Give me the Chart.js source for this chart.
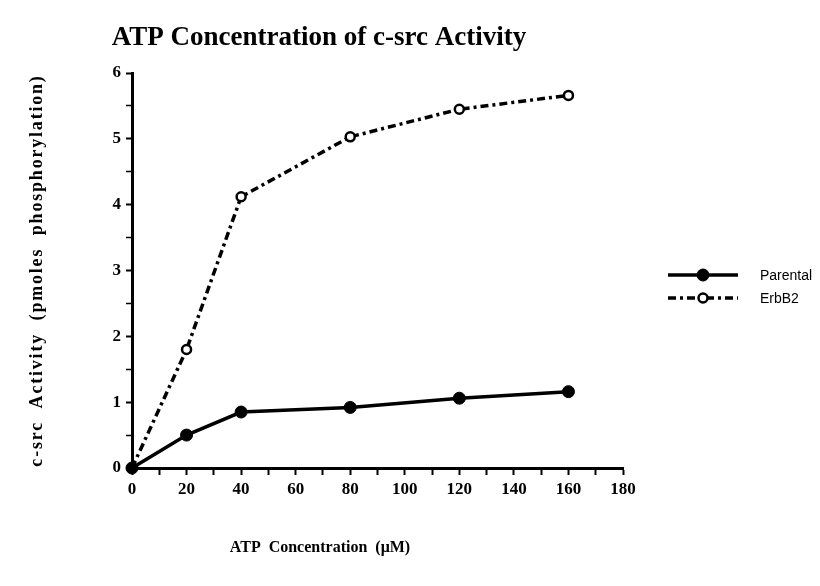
<!DOCTYPE html>
<html>
<head>
<title>ATP Concentration of c-src Activity</title>
<script src="https://cdn.jsdelivr.net/npm/chart.js"></script>
<style>body{margin:0;background:#fff}</style>
</head>
<body>
<canvas id="atpChart" width="820" height="586"></canvas>

<script>
// ATP concentration (uM) and c-src activity (pmoles phosphorylation)
var atp = [0, 20, 40, 80, 120, 160];
var parental = [0, 0.5, 0.85, 0.92, 1.06, 1.16];
var erbb2 = [0, 1.8, 4.12, 5.03, 5.45, 5.66];
var seriesNames = ['Parental', 'ErbB2'];
var chartTitle = 'ATP Concentration of c-src Activity';
var xTitle = 'ATP  Concentration  (\u03bcM)';
var yTitle = 'c-src  Activity  (pmoles  phosphorylation)';

function toPoints(ys){
	return ys.map(function(y, i){ return {x: atp[i], y: y}; });
}

var serif = 'Liberation Serif';

// title, axis titles and the legend on the right
var extras = {
	id: 'extras',
	afterDraw: function(chart){
		var c = chart.ctx;
		var area = chart.chartArea;
		c.save();
		c.fillStyle = '#000';
		c.textAlign = 'center';
		c.textBaseline = 'middle';
		c.font = 'bold 27px "' + serif + '"';
		c.fillText(chartTitle, 319, 38);
		c.font = 'bold 16px "' + serif + '"';
		c.fillText(xTitle, 320, 548);

		// rotated y title
		c.save();
		c.translate(37, (area.top + area.bottom) / 2);
		c.rotate(-Math.PI / 2);
		c.font = 'bold 18px "' + serif + '"';
		c.letterSpacing = '1.8px';
		c.fillText(yTitle, 0, 0);
		c.restore();

		c.font = '14px "Liberation Sans"';
		c.textAlign = 'left';
		chart.data.datasets.forEach(function(ds, i){
			var y = 275 + i * 23;
			c.strokeStyle = ds.borderColor;
			c.lineWidth = ds.borderWidth;
			c.setLineDash(ds.borderDash || []);
			c.beginPath(); c.moveTo(668, y); c.lineTo(738, y); c.stroke();
			c.setLineDash([]);
			c.beginPath(); c.arc(703, y, ds.pointRadius, 0, Math.PI * 2);
			c.fillStyle = ds.pointBackgroundColor; c.fill();
			c.lineWidth = ds.pointBorderWidth; c.strokeStyle = ds.pointBorderColor; c.stroke();
			c.fillStyle = '#000';
			c.fillText(ds.label, 760, y + 1);
		});
		c.restore();
	}
};

var ctx = document.getElementById('atpChart').getContext('2d');
var chart = new Chart(ctx, {
	type: 'line',
	data: {
		datasets: [
			{
				label: seriesNames[0],
				data: toPoints(parental),
				borderColor: '#000',
				borderWidth: 3.5,
				pointRadius: 6,
				pointBackgroundColor: '#000',
				pointBorderColor: '#000',
				pointBorderWidth: 1,
				clip: false
			},
			{
				label: seriesNames[1],
				data: toPoints(erbb2),
				borderColor: '#000',
				borderWidth: 3.5,
				borderDash: [8, 4, 3, 4],
				pointRadius: 4.5,
				pointBackgroundColor: '#fff',
				pointBorderColor: '#000',
				pointBorderWidth: 2.5,
				clip: false
			}
		]
	},
	options: {
		responsive: false,
		animation: false,
		layout: {padding: {left: 0, right: 197, top: 73, bottom: 78}},
		plugins: {
			legend: {display: false},
			tooltip: {enabled: false}
		},
		scales: {
			x: {
				type: 'linear', min: 0, max: 180,
				afterFit: function(s){ s.height = 40; },
				ticks: {
					stepSize: 10, autoSkip: false, maxRotation: 0, color: '#000', padding: 4,
					callback: function(v){ return v % 20 === 0 ? v : ''; },
					font: {family: serif, size: 17, weight: 'bold'}
				},
				grid: {drawOnChartArea: false, tickLength: 7, tickWidth: 2, tickColor: '#000'},
				border: {color: '#000', width: 3}
			},
			y: {
				min: 0, max: 6,
				afterFit: function(s){ s.width = 132; },
				ticks: {
					stepSize: 0.5, color: '#000', padding: 5,
					callback: function(v){ return v % 1 === 0 ? v : ''; },
					font: {family: serif, size: 17, weight: 'bold'}
				},
				grid: {
					drawOnChartArea: false, tickLength: 6, tickColor: '#000',
					tickWidth: function(c){ return c.tick && c.tick.value % 1 === 0 ? 2 : 1.5; }
				},
				border: {color: '#000', width: 3}
			}
		}
	},
	plugins: [extras]
});
</script>
</body>
</html>
